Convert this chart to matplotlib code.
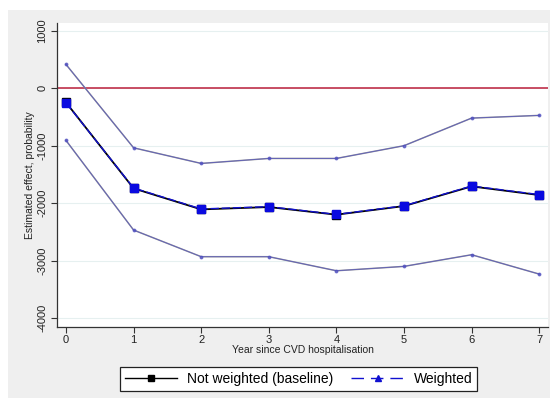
import matplotlib
matplotlib.use("Agg")
import matplotlib.pyplot as plt
from matplotlib.lines import Line2D
from matplotlib.patches import Rectangle

years = [0, 1, 2, 3, 4, 5, 6, 7]
not_weighted = [-244, -1742, -2108, -2067, -2200, -2050, -1707, -1858]
weighted = [-250, -1735, -2100, -2060, -2195, -2045, -1700, -1850]
upper_ci = [418, -1035, -1307, -1220, -1220, -998, -517, -470]
lower_ci = [-906, -2468, -2932, -2932, -3177, -3101, -2898, -3235]
yticks = [1000, 0, -1000, -2000, -3000, -4000]
xlabel = "Year since CVD hospitalisation"
ylabel = "Estimated effect, probability"
legend_labels = ["Not weighted (baseline)", "Weighted"]

plt.rcParams['font.family'] = ['Liberation Sans', 'DejaVu Sans']

fig = plt.figure(figsize=(5.5, 4.05), dpi=100, facecolor='white')
bg = Rectangle((8/550, 7/405), 1 - 8/550, (398-10)/405,
               transform=fig.transFigure, facecolor='#efefef',
               edgecolor='none', zorder=-10)
fig.add_artist(bg)

ax = fig.add_axes([57/550, (405-327)/405, (548-57)/550, (327-23)/405])
ax.set_facecolor('white')
ax.set_zorder(1)

for yt in yticks:
    ax.axhline(yt, color='#e6f0f0', lw=0.8, zorder=1)
ax.axhline(0, color='#c0304a', lw=1.2, zorder=2)

# confidence bands
for ci in (upper_ci, lower_ci):
    ax.plot(years, ci, color='#9a9a9a', lw=1.1, zorder=3)
    ax.plot(years, ci, color='#5050c0', lw=0.7, alpha=0.75, marker='o',
            markersize=1.8, zorder=4)

ax.plot(years, not_weighted, color='black', lw=1.3, marker='s', markersize=5.5,
        markerfacecolor='black', zorder=5)
ax.plot(years, weighted, color='#1010d0', lw=1.0, ls=(0, (6, 2)), marker='s',
        markersize=5.2, markerfacecolor='#0a0ae0', markeredgecolor='#0a0ae0',
        zorder=6)

ax.set_xlim(-0.133, 7.13)
ax.set_ylim(-4157, 1140)
ax.set_xticks(years)
ax.set_yticks(yticks)
ax.set_yticklabels([str(v) for v in yticks], rotation=90, va='center')
ax.tick_params(axis='both', labelsize=8, length=4, color='#333333',
               labelcolor='#222222', direction='out')
ax.tick_params(axis='x', pad=1.5)
ax.tick_params(axis='y', pad=3)
for s in ('top', 'right'):
    ax.spines[s].set_visible(False)
for s in ('left', 'bottom'):
    ax.spines[s].set_color('#333333')
    ax.spines[s].set_linewidth(0.9)

ax.set_xlabel(xlabel, fontsize=7.5, color='#222222', labelpad=0)
ax.set_ylabel(ylabel, fontsize=7.5, color='#222222', labelpad=1.5)

handles = [
    Line2D([], [], color='black', lw=1.0, marker='s', markersize=5),
    Line2D([], [], color='#1010d0', lw=1.0, ls=(0, (9, 5)), marker='^',
           markersize=5, markerfacecolor='#1010d0'),
]
leg = fig.legend(handles, legend_labels, loc='center',
                 bbox_to_anchor=(298.5/550, (405-379)/405), ncol=2,
                 fontsize=10, frameon=True, fancybox=False, handlelength=3.8,
                 columnspacing=1.3, borderpad=0.35, handletextpad=0.7)
leg.get_frame().set_edgecolor('#222222')
leg.get_frame().set_linewidth(0.9)
leg.get_frame().set_facecolor('white')
leg.get_frame().set_alpha(1)

fig.savefig('out.png', dpi=100, facecolor=fig.get_facecolor())
